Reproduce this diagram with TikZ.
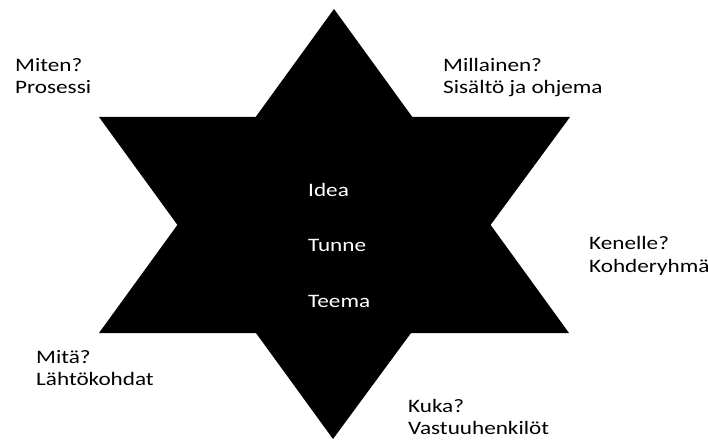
\documentclass[tikz,border=0pt]{standalone}
\usepackage{fontspec}
\setmainfont{Carlito}[FakeStretch=1.22]
\usetikzlibrary{positioning}
\tikzstyle{sidetext} = [
  anchor=base west, inner sep=0pt,
  font=\fontsize{19}{23}\selectfont, text=black
]
\tikzstyle{coretext} = [
  sidetext, text=white
]
\tikzstyle{startri} = [
  fill=black, draw=none
]
\begin{document}
\begin{tikzpicture}[x=1pt, y=1pt]

  \useasboundingbox (0,0) rectangle (708,439);

  % star points
  \coordinate (top)    at (334,430);
  \coordinate (bottom) at (333,0);
  \coordinate (ul)     at (99,322);
  \coordinate (ur)     at (570,322);
  \coordinate (ll)     at (99,106);
  \coordinate (lr)     at (569,106);

  \fill[startri] (top) -- (ll) -- (lr) -- cycle;
  \fill[startri] (bottom) -- (ul) -- (ur) -- cycle;

  % centre words
  \node[coretext] (idea)  at (308,242) {Idea};
  \node[coretext] (tunne) at (308,187) {Tunne};
  \node[coretext] (teema) at (308,132) {Teema};

  % questions round the star
  \node[sidetext] (miten)     at (15,367)  {Miten?};
  \node[sidetext] (prosessi)  at (15,345)  {Prosessi};

  \node[sidetext] (millainen) at (443,367) {Millainen?};
  \node[sidetext] (sisalto)   at (443,345) {Sisältö ja ohjema};

  \node[sidetext] (kenelle)   at (589,189) {Kenelle?};
  \node[sidetext] (kohde)     at (589,166) {Kohderyhmä};

  \node[sidetext] (mita)      at (36,76)   {Mitä?};
  \node[sidetext] (lahto)     at (36,54)   {Lähtökohdat};

  \node[sidetext] (kuka)      at (408,27)  {Kuka?};
  \node[sidetext] (vastuu)    at (408,5)   {Vastuuhenkilöt};

\end{tikzpicture}
\end{document}
